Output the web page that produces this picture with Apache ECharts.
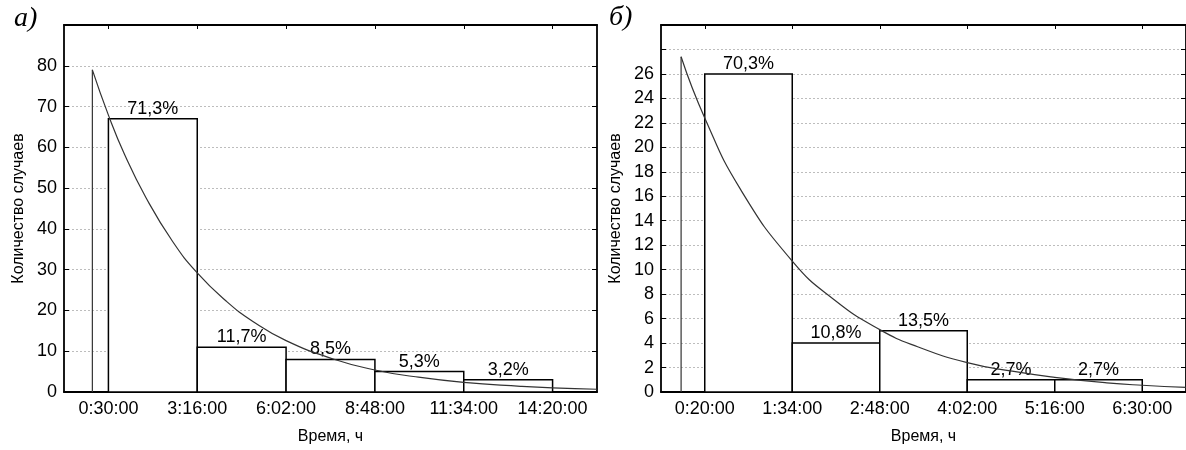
<!DOCTYPE html>
<html>
<head>
<meta charset="utf-8">
<script src="https://cdn.jsdelivr.net/npm/echarts@6/dist/echarts.min.js"></script>
<style>
  html, body { margin: 0; background: #fff; }
  #chart { width: 1186px; height: 450px; }
</style>
</head>
<body>
<div id="chart"></div>
<script>
// panel а) : время восстановления, мин
const ticksA = ['0:30:00', '3:16:00', '6:02:00', '8:48:00', '11:34:00', '14:20:00'];
const countsA = [67, 11, 8, 5, 3];
const pctA = ['71,3%', '11,7%', '8,5%', '5,3%', '3,2%'];
const curveTA = [0, 30, 60, 100, 150, 196, 250, 300, 362, 450, 528, 600, 694, 800, 860, 943];
const curveYA = [79, 67.9, 58.3, 47.7, 36.9, 29.2, 22.3, 17.3, 12.6, 8.1, 5.4, 3.8, 2.35, 1.4, 1.0, 0.67];
const yLabelsA = [0, 10, 20, 30, 40, 50, 60, 70, 80];

// panel б)
const ticksB = ['0:20:00', '1:34:00', '2:48:00', '4:02:00', '5:16:00', '6:30:00'];
const countsB = [26, 4, 5, 1, 1];
const pctB = ['70,3%', '10,8%', '13,5%', '2,7%', '2,7%'];
const curveTB = [0, 20, 50, 94, 130, 168, 200, 242, 280, 316, 360, 390, 427];
const curveYB = [27.4, 22.4, 16.6, 10.7, 7.5, 5.1, 3.7, 2.4, 1.7, 1.2, 0.75, 0.55, 0.38];
const yLabelsB = [0, 2, 4, 6, 8, 10, 12, 14, 16, 18, 20, 22, 24, 26];

const FONT = 'Liberation Sans';

function toMin(s) {
  const p = s.split(':').map(Number);
  return p[0] * 60 + p[1] + p[2] / 60;
}

function panel(idx, ticks, counts, pct, ct, cy, yLabels, xr, yMax, yStep) {
  const edges = ticks.map(toMin);
  const fmt = v => {
    const i = edges.indexOf(v);
    return i < 0 ? '' : ticks[i];
  };
  const frame = { onZero: false, lineStyle: { color: '#000', width: 1.8 } };
  const xAxes = [
    {
      gridIndex: idx, type: 'value', position: 'bottom', min: xr[0], max: xr[1],
      name: 'Время, ч', nameLocation: 'middle', nameGap: 37,
      nameTextStyle: { fontFamily: FONT, fontSize: 16, color: '#000' },
      axisLine: frame,
      axisTick: { inside: true, length: 4, customValues: edges, lineStyle: { color: '#000' } },
      axisLabel: { customValues: edges, formatter: fmt, margin: 8, fontFamily: FONT, fontSize: 18, color: '#000' },
      splitLine: { show: false }
    },
    {
      gridIndex: idx, type: 'value', position: 'top', min: xr[0], max: xr[1],
      axisLine: frame,
      axisTick: { inside: true, length: 4, customValues: edges, lineStyle: { color: '#000' } },
      axisLabel: { show: false },
      splitLine: { show: false }
    }
  ];
  const yAxes = [
    {
      gridIndex: idx, type: 'value', position: 'left', min: 0, max: yMax, interval: yStep,
      name: 'Количество случаев', nameLocation: 'middle', nameGap: 37, nameRotate: 90,
      nameTextStyle: { fontFamily: FONT, fontSize: 16, color: '#000' },
      axisLine: Object.assign({ show: true }, frame),
      axisTick: { show: true, inside: true, length: 5, lineStyle: { color: '#000' } },
      axisLabel: { customValues: yLabels, margin: 7, fontFamily: FONT, fontSize: 18, color: '#000' },
      splitLine: { show: true, lineStyle: { color: '#bdbdbd', type: [2, 2], width: 1 } }
    },
    {
      gridIndex: idx, type: 'value', position: 'right', min: 0, max: yMax, interval: yStep,
      axisLine: Object.assign({ show: true }, frame),
      axisTick: { show: true, inside: true, length: 5, lineStyle: { color: '#000' } },
      axisLabel: { show: false },
      splitLine: { show: false }
    }
  ];
  const barData = counts.map((c, i) => [edges[i], edges[i + 1], c]);
  const series = [
    {
      type: 'custom', xAxisIndex: idx * 2, yAxisIndex: idx * 2, data: barData, z: 2,
      renderItem(params, api) {
        const a = api.coord([api.value(0), api.value(2)]);
        const b = api.coord([api.value(1), 0]);
        return {
          type: 'group',
          children: [
            {
              type: 'rect',
              shape: { x: a[0], y: a[1], width: b[0] - a[0], height: b[1] - a[1] },
              style: { fill: '#fff', stroke: '#000', lineWidth: 1.5 }
            },
            {
              type: 'text', x: (a[0] + b[0]) / 2, y: a[1] - 1,
              style: {
                text: pct[params.dataIndex], fill: '#000', fontFamily: FONT, fontSize: 18,
                align: 'center', verticalAlign: 'bottom'
              }
            }
          ]
        };
      }
    },
    {
      type: 'line', xAxisIndex: idx * 2, yAxisIndex: idx * 2, z: 3, symbol: 'none',
      data: [[ct[0], 0], [ct[0], cy[0]]],
      lineStyle: { color: '#333', width: 1.2 }
    },
    {
      type: 'line', xAxisIndex: idx * 2, yAxisIndex: idx * 2, z: 3, symbol: 'none', smooth: true,
      data: ct.map((t, i) => [t, cy[i]]),
      lineStyle: { color: '#333', width: 1.2 }
    }
  ];
  return { xAxes, yAxes, series };
}

const pa = panel(0, ticksA, countsA, pctA, curveTA, curveYA, yLabelsA, [-53, 943], 90, 10);
const pb = panel(1, ticksB, countsB, pctB, curveTB, curveYB, yLabelsB, [-17, 427], 30, 2);

const tagStyle = { fontFamily: 'Liberation Serif', fontStyle: 'italic', fontWeight: 'normal', fontSize: 28, color: '#000' };
const chart = echarts.init(document.getElementById('chart'));
chart.setOption({
  animation: false,
  backgroundColor: '#fff',
  title: [
    { text: 'а)', left: 14, top: 5, padding: 0, textStyle: tagStyle },
    { text: 'б)', left: 609, top: 4, padding: 0, textStyle: tagStyle }
  ],
  grid: [
    { left: 64, top: 25, width: 533, height: 372 },
    { left: 661, top: 25, width: 533, height: 372 }
  ],
  xAxis: pa.xAxes.concat(pb.xAxes),
  yAxis: pa.yAxes.concat(pb.yAxes),
  series: pa.series.concat(pb.series)
});
</script>
</body>
</html>
